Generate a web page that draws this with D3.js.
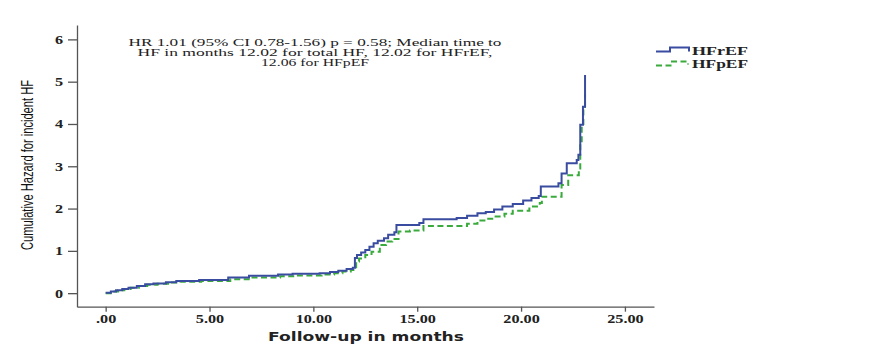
<!DOCTYPE html>
<html><head><meta charset="utf-8">
<script src="https://cdn.jsdelivr.net/npm/d3@7"></script>
<style>
html,body{margin:0;padding:0;background:#fff;}
svg{display:block;}
</style></head>
<body>
<svg id="chart" width="881" height="356"></svg>
<script>
// ---- data ----
const seriesNames = ["HFrEF", "HFpEF"];
const hfrefTimes = [0.0,0.25,0.5,0.8,1.1,1.5,1.9,2.3,2.9,3.4,4.5,5.9,6.9,8.3,9.0,10.3,10.8,11.2,11.6,11.9,12.0,12.1,12.3,12.5,12.7,12.9,13.1,13.4,13.6,13.9,14.0,15.1,15.3,16.9,17.4,17.9,18.3,18.7,19.1,19.6,20.1,20.5,20.85,20.95,21.8,21.95,22.2,22.68,22.76,22.85,22.98,23.08];
const hfrefValues = [0.01,0.04,0.07,0.10,0.13,0.17,0.21,0.23,0.26,0.29,0.31,0.37,0.41,0.44,0.46,0.47,0.50,0.53,0.57,0.60,0.83,0.90,0.96,1.02,1.10,1.18,1.24,1.30,1.38,1.44,1.61,1.66,1.75,1.78,1.83,1.89,1.92,1.98,2.05,2.11,2.19,2.25,2.30,2.52,2.60,2.83,3.07,3.15,3.27,3.98,4.41,5.16];
const hfpefTimes = [0.0,0.3,0.6,0.9,1.2,1.6,2.0,2.5,3.0,3.6,4.6,6.0,7.0,8.4,9.2,10.4,11.0,11.4,11.8,12.06,12.2,12.5,12.8,13.2,13.5,13.8,14.1,14.65,15.3,17.4,17.9,18.3,18.7,19.2,19.6,20.4,20.9,21.0,21.95,22.27,22.78,22.85,22.92,23.0,23.08];
const hfpefValues = [0.0,0.04,0.07,0.10,0.13,0.17,0.20,0.22,0.25,0.27,0.29,0.33,0.37,0.40,0.42,0.44,0.47,0.51,0.55,0.75,0.82,0.90,0.98,1.14,1.22,1.28,1.46,1.48,1.59,1.64,1.72,1.76,1.81,1.88,1.95,2.05,2.13,2.28,2.56,2.79,2.95,3.54,3.94,4.41,4.72];
const xTickValues = [0,5,10,15,20,25];
const xTickLabels = [".00","5.00","10.00","15.00","20.00","25.00"];
const yTickValues = [0,1,2,3,4,5,6];
const yTickLabels = ["0","1","2","3","4","5","6"];
const annotationLines = [
  "HR 1.01 (95% CI 0.78-1.56) p = 0.58; Median time to",
  "HF in months 12.02 for total HF, 12.02 for HFrEF,",
  "12.06 for HFpEF"
];
const xTitle = "Follow-up in months";
const yTitle = "Cumulative Hazard for incident HF";

// ---- drawing ----
const svg = d3.select("#chart");
const x = d3.scaleLinear().domain([-1.38, 26.4]).range([77, 654]);
const y = d3.scaleLinear().domain([-0.32, 6.34]).range([306.7, 25]);
const blue = "#3a4ca0", green = "#3aaa3c", axisCol = "#555";
const serif = "'Liberation Serif','Times New Roman',serif";

function stretch(sel, k){
  sel.each(function(){
    const w = this.getComputedTextLength();
    d3.select(this).attr("textLength", w*k).attr("lengthAdjust","spacingAndGlyphs");
  });
}

// x axis
const gx = svg.append("g").attr("transform", `translate(0,${y.range()[0]})`)
  .call(d3.axisBottom(x).tickValues(xTickValues).tickFormat((d,i)=>xTickLabels[i]).tickSize(5).tickSizeOuter(0));
gx.select(".domain").attr("stroke", axisCol).attr("stroke-width", 1.3);
gx.selectAll(".tick line").attr("stroke", axisCol).attr("stroke-width", 1.3);
gx.selectAll(".tick text").attr("fill","#222").attr("font-family", serif).attr("font-weight","bold")
  .attr("font-size", 12).attr("dy","0.95em").attr("y", 5).call(stretch, 1.35);

// y axis
const gy = svg.append("g").attr("transform", `translate(${x.range()[0]},0)`)
  .call(d3.axisLeft(y).tickValues(yTickValues).tickFormat((d,i)=>yTickLabels[i]).tickSize(9).tickSizeOuter(0));
gy.select(".domain").attr("stroke", axisCol).attr("stroke-width", 1.3);
gy.selectAll(".tick line").attr("stroke", axisCol).attr("stroke-width", 1.3);
gy.selectAll(".tick text").attr("fill","#222").attr("font-family", serif).attr("font-weight","bold")
  .attr("font-size", 12).attr("x", -14).call(stretch, 1.35);

// axis titles
svg.append("text").attr("x", 366).attr("y", 341).attr("text-anchor","middle")
  .attr("font-family","'DejaVu Sans',Verdana,sans-serif").attr("font-weight","bold").attr("font-size", 11.5)
  .attr("fill","#222").attr("textLength", 196).attr("lengthAdjust","spacingAndGlyphs").text(xTitle);
svg.append("text").attr("transform","translate(33,165) rotate(-90)").attr("text-anchor","middle")
  .attr("font-family","'Liberation Sans','Arial',sans-serif").attr("font-size", 16)
  .attr("fill","#111").attr("textLength", 170).attr("lengthAdjust","spacingAndGlyphs").text(yTitle);

// curves
const line = d3.line().x(d=>x(d[0])).y(d=>y(d[1])).curve(d3.curveStepAfter);
const blueData = hfrefTimes.map((t,i)=>[t, hfrefValues[i]]);
const greenData = hfpefTimes.map((t,i)=>[t, hfpefValues[i]]);
svg.append("path").datum(greenData).attr("d", line).attr("fill","none")
  .attr("stroke", green).attr("stroke-width", 2).attr("stroke-dasharray","6,3.5");
svg.append("path").datum(blueData).attr("d", line).attr("fill","none")
  .attr("stroke", blue).attr("stroke-width", 2);

// annotation
const annLens = [373, 355, 108];
svg.append("g").selectAll("text").data(annotationLines).join("text")
  .attr("x", 315).attr("y", (d,i)=>46 + i*10).attr("text-anchor","middle")
  .attr("font-family", serif).attr("font-size", 10.5).attr("fill","#222")
  .attr("textLength",(d,i)=>annLens[i]).attr("lengthAdjust","spacingAndGlyphs").text(d=>d);

// legend
const leg = svg.append("g");
const legSym = [
  {col: blue, dash: null, pts: [[656,51.5],[670,51.5],[670,47.5],[689,47.5],[689,51.5]], ty: 54.5},
  {col: green, dash: "6,3.5", pts: [[656,65.5],[672,65.5],[672,61.5],[688,61.5],[688,64.5]], ty: 68}
];
legSym.forEach((s,i)=>{
  leg.append("path").attr("d", d3.line()(s.pts)).attr("fill","none").attr("stroke", s.col)
    .attr("stroke-width", 2).attr("stroke-dasharray", s.dash);
  leg.append("text").attr("x", 692).attr("y", s.ty).attr("font-family", serif).attr("font-weight","bold")
    .attr("font-size", 13.5).attr("fill","#222").attr("textLength", 56).attr("lengthAdjust","spacingAndGlyphs")
    .text(seriesNames[i]);
});
</script>
</body></html>
